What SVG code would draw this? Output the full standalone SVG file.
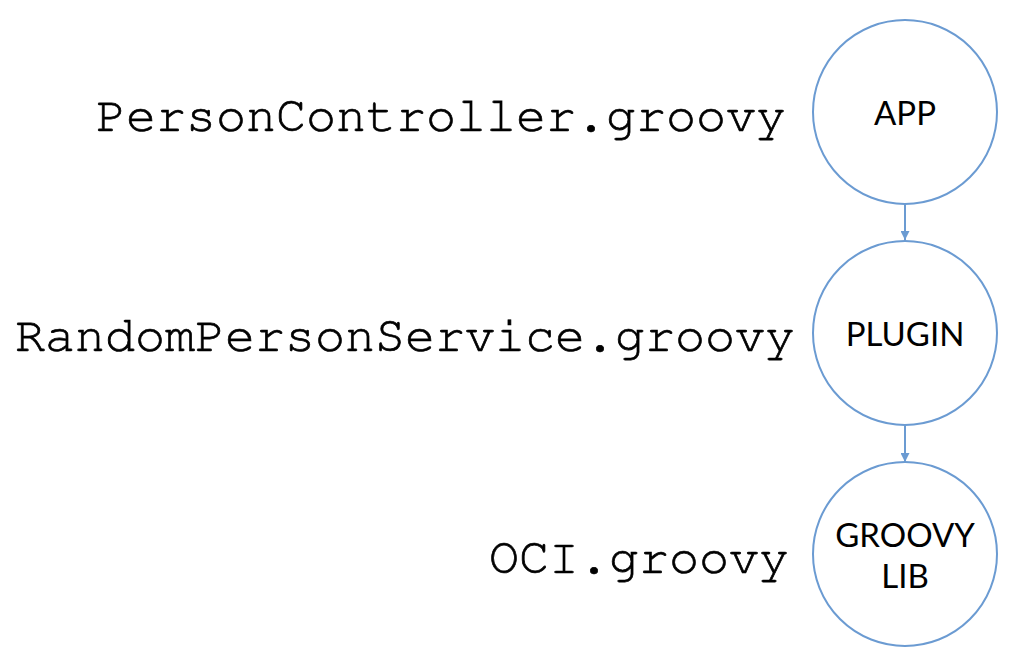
<svg xmlns="http://www.w3.org/2000/svg" width="1018" height="657" viewBox="0 0 1018 657">
  <style>
    .node { fill: #ffffff; stroke: #6b9bd2; stroke-width: 2; }
    .lbl { font-family: "Lato", "Open Sans", sans-serif; font-size: 33px; fill: #000000; text-anchor: middle; }
    .file { font-family: "Nimbus Mono PS", "FreeMono", "Courier", "Liberation Mono", monospace; font-size: 50px; fill: #000000; stroke: #000000; stroke-width: 0.7; }
    .edge { stroke: #6b9bd2; stroke-width: 2; fill: none; }
  </style>
  <defs>
    <marker id="arrow" viewBox="0 0 10 10" refX="10" refY="5" markerWidth="4.5" markerHeight="4.5" orient="auto" markerUnits="strokeWidth">
      <path d="M0,0 L10,5 L0,10 Z" fill="#6b9bd2"/>
    </marker>
  </defs>

  <rect width="1018" height="657" fill="#ffffff"/>

  <!-- file names beside each layer -->
  <text class="file" x="96" y="131">PersonController.groovy</text>
  <text class="file" x="15" y="351">RandomPersonService.groovy</text>
  <text class="file" x="489" y="573">OCI.groovy</text>

  <!-- dependency connectors -->
  <g id="connectors">
    <line class="edge" x1="905" y1="204" x2="905" y2="240" marker-end="url(#arrow)"/>
    <line class="edge" x1="905" y1="426" x2="905" y2="462" marker-end="url(#arrow)"/>
  </g>

  <g id="app">
    <circle class="node" cx="905" cy="112" r="92"/>
    <text class="lbl" x="905" y="125">APP</text>
  </g>

  <g id="plugin">
    <circle class="node" cx="905" cy="333" r="92"/>
    <text class="lbl" x="905" y="346">PLUGIN</text>
  </g>

  <g id="groovy-lib">
    <circle class="node" cx="905" cy="554" r="92"/>
    <text class="lbl" x="905" y="547">GROOVY</text>
    <text class="lbl" x="905" y="588">LIB</text>
  </g>
</svg>
